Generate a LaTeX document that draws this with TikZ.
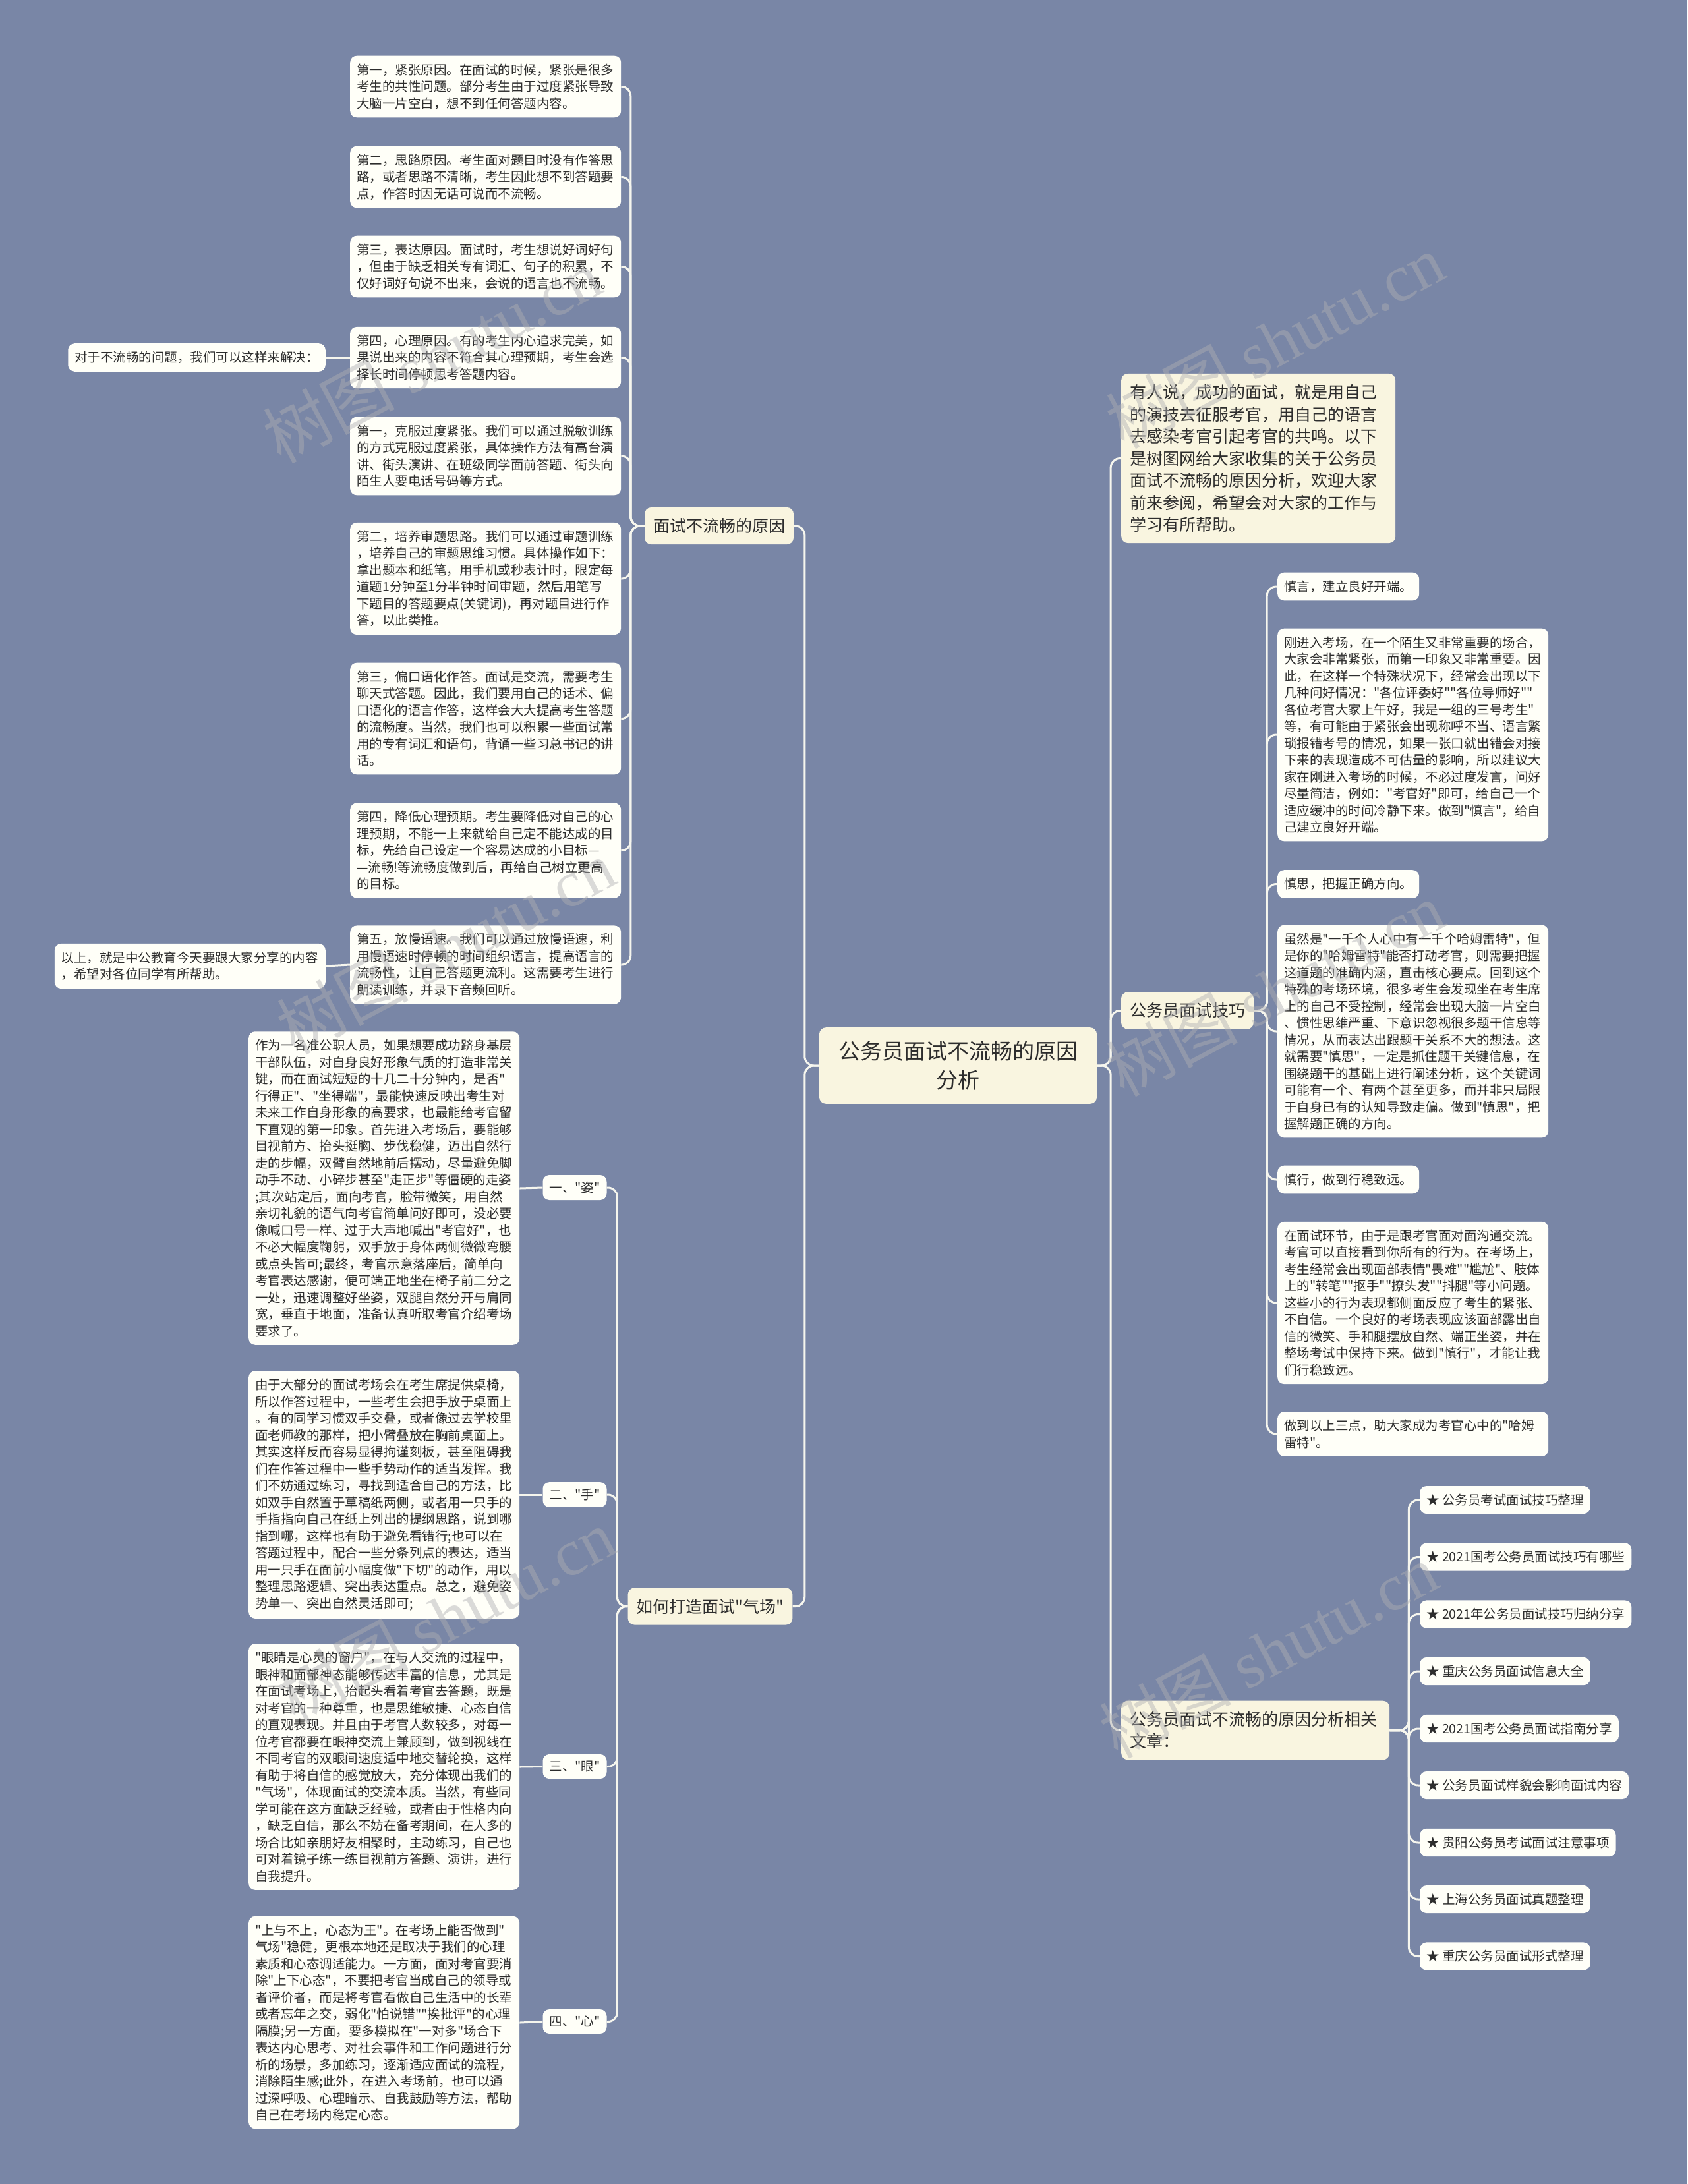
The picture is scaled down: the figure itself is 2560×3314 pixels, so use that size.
\documentclass[tikz,border=0pt]{standalone}
\usepackage{fontspec}
\setmainfont{Noto Sans CJK SC}
\newfontfamily\cn{Noto Sans CJK SC}
\newfontfamily\wmlatin{Liberation Serif}
\definecolor{bgc}{RGB}{121,134,166}
\definecolor{leaffill}{RGB}{255,255,248}
\definecolor{lvlfill}{RGB}{249,245,224}
\definecolor{linec}{RGB}{246,246,238}
\definecolor{textc}{RGB}{45,45,45}
\definecolor{wmc}{RGB}{175,175,178}
\begin{document}
\begin{tikzpicture}[x=1pt,y=-1pt,
  conn/.style={draw=linec, line width=3pt, rounded corners=14pt},
  leaf/.style={fill=leaffill, rounded corners=10pt, text=textc, font=\cn\fontsize{19.5}{25.5}\selectfont, inner xsep=10pt, inner ysep=12pt, align=left},
  wide/.style={leaf, text width=391pt},
  small/.style={leaf, inner ysep=10pt},
  lvl/.style={fill=lvlfill, rounded corners=10pt, text=textc, font=\cn\fontsize{25}{33.5}\selectfont, inner xsep=13pt, inner ysep=16.5pt, align=left},
  rootn/.style={fill=lvlfill, rounded corners=10pt, text=textc, font=\cn\fontsize{33}{44}\selectfont, inner xsep=29pt, inner ysep=20.5pt, align=center, text width=363pt},
  wm/.style={text=wmc, opacity=0.45, rotate=28, font=\cn\fontsize{100}{110}\selectfont}
]
\useasboundingbox (0,0) rectangle (2560,3314);
\fill[bgc] (0,0) rectangle (2560,3314);

% ---------- root ----------
\node[rootn] (root) at (1453.5,1617) {公务员面试不流畅的原因\\分析};

% ---------- left branch 1 ----------
\node[lvl] (why) at (1091,798) {面试不流畅的原因};

\node[wide, anchor=west] (l1) at (531,131.5) {第一，紧张原因。在面试的时候，紧张是很多\\考生的共性问题。部分考生由于过度紧张导致\\大脑一片空白，想不到任何答题内容。};
\node[wide, anchor=west] (l2) at (531,268.5) {第二，思路原因。考生面对题目时没有作答思\\路，或者思路不清晰，考生因此想不到答题要\\点，作答时因无话可说而不流畅。};
\node[wide, anchor=west] (l3) at (531,404.5) {第三，表达原因。面试时，考生想说好词好句\\，但由于缺乏相关专有词汇、句子的积累，不\\仅好词好句说不出来，会说的语言也不流畅。};
\node[wide, anchor=west] (l4) at (531,542.5) {第四，心理原因。有的考生内心追求完美，如\\果说出来的内容不符合其心理预期，考生会选\\择长时间停顿思考答题内容。};
\node[wide, anchor=west] (l5) at (531,692) {第一，克服过度紧张。我们可以通过脱敏训练\\的方式克服过度紧张，具体操作方法有高台演\\讲、街头演讲、在班级同学面前答题、街头向\\陌生人要电话号码等方式。};
\node[wide, anchor=west] (l6) at (531,878) {第二，培养审题思路。我们可以通过审题训练\\，培养自己的审题思维习惯。具体操作如下：\\拿出题本和纸笔，用手机或秒表计时，限定每\\道题1分钟至1分半钟时间审题，然后用笔写\\下题目的答题要点(关键词)，再对题目进行作\\答，以此类推。};
\node[wide, anchor=west] (l7) at (531,1090.5) {第三，偏口语化作答。面试是交流，需要考生\\聊天式答题。因此，我们要用自己的话术、偏\\口语化的语言作答，这样会大大提高考生答题\\的流畅度。当然，我们也可以积累一些面试常\\用的专有词汇和语句，背诵一些习总书记的讲\\话。};
\node[wide, anchor=west] (l8) at (531,1290.5) {第四，降低心理预期。考生要降低对自己的心\\理预期，不能一上来就给自己定不能达成的目\\标，先给自己设定一个容易达成的小目标—\\—流畅!等流畅度做到后，再给自己树立更高\\的目标。};
\node[wide, anchor=west] (l9) at (531,1464) {第五，放慢语速。我们可以通过放慢语速，利\\用慢语速时停顿的时间组织语言，提高语言的\\流畅性，让自己答题更流利。这需要考生进行\\朗读训练，并录下音频回听。};

\node[leaf, anchor=east] (solve) at (494,542.5) {对于不流畅的问题，我们可以这样来解决：};
\node[wide, anchor=east] (summary) at (494,1466) {以上，就是中公教育今天要跟大家分享的内容\\，希望对各位同学有所帮助。};

% ---------- left branch 2 ----------
\node[lvl] (aura) at (1077.5,2437.5) {如何打造面试"气场"};

\node[small] (zi) at (872,1802) {一、"姿"};
\node[small] (shou) at (872,2268) {二、"手"};
\node[small] (yan) at (872,2680.5) {三、"眼"};
\node[small] (xin) at (872,3067.5) {四、"心"};

\node[wide, anchor=west] (zit) at (377,1803) {作为一名准公职人员，如果想要成功跻身基层\\干部队伍，对自身良好形象气质的打造非常关\\键，而在面试短短的十几二十分钟内，是否"\\行得正"、"坐得端"，最能快速反映出考生对\\未来工作自身形象的高要求，也最能给考官留\\下直观的第一印象。首先进入考场后，要能够\\目视前方、抬头挺胸、步伐稳健，迈出自然行\\走的步幅，双臂自然地前后摆动，尽量避免脚\\动手不动、小碎步甚至"走正步"等僵硬的走姿\\;其次站定后，面向考官，脸带微笑，用自然\\亲切礼貌的语气向考官简单问好即可，没必要\\像喊口号一样、过于大声地喊出"考官好"，也\\不必大幅度鞠躬，双手放于身体两侧微微弯腰\\或点头皆可;最终，考官示意落座后，简单向\\考官表达感谢，便可端正地坐在椅子前二分之\\一处，迅速调整好坐姿，双腿自然分开与肩同\\宽，垂直于地面，准备认真听取考官介绍考场\\要求了。};
\node[wide, anchor=west] (shout) at (377,2268) {由于大部分的面试考场会在考生席提供桌椅，\\所以作答过程中，一些考生会把手放于桌面上\\。有的同学习惯双手交叠，或者像过去学校里\\面老师教的那样，把小臂叠放在胸前桌面上。\\其实这样反而容易显得拘谨刻板，甚至阻碍我\\们在作答过程中一些手势动作的适当发挥。我\\们不妨通过练习，寻找到适合自己的方法，比\\如双手自然置于草稿纸两侧，或者用一只手的\\手指指向自己在纸上列出的提纲思路，说到哪\\指到哪，这样也有助于避免看错行;也可以在\\答题过程中，配合一些分条列点的表达，适当\\用一只手在面前小幅度做"下切"的动作，用以\\整理思路逻辑、突出表达重点。总之，避免姿\\势单一、突出自然灵活即可;};
\node[wide, anchor=west] (yant) at (377,2681) {"眼睛是心灵的窗户"，在与人交流的过程中，\\眼神和面部神态能够传达丰富的信息，尤其是\\在面试考场上，抬起头看着考官去答题，既是\\对考官的一种尊重，也是思维敏捷、心态自信\\的直观表现。并且由于考官人数较多，对每一\\位考官都要在眼神交流上兼顾到，做到视线在\\不同考官的双眼间速度适中地交替轮换，这样\\有助于将自信的感觉放大，充分体现出我们的\\"气场"，体现面试的交流本质。当然，有些同\\学可能在这方面缺乏经验，或者由于性格内向\\，缺乏自信，那么不妨在备考期间，在人多的\\场合比如亲朋好友相聚时，主动练习，自己也\\可对着镜子练一练目视前方答题、演讲，进行\\自我提升。};
\node[wide, anchor=west] (xint) at (377,3069) {"上与不上，心态为王"。在考场上能否做到"\\气场"稳健，更根本地还是取决于我们的心理\\素质和心态调适能力。一方面，面对考官要消\\除"上下心态"，不要把考官当成自己的领导或\\者评价者，而是将考官看做自己生活中的长辈\\或者忘年之交，弱化"怕说错""挨批评"的心理\\隔膜;另一方面，要多模拟在"一对多"场合下\\表达内心思考、对社会事件和工作问题进行分\\析的场景，多加练习，逐渐适应面试的流程，\\消除陌生感;此外，在进入考场前，也可以通\\过深呼吸、心理暗示、自我鼓励等方法，帮助\\自己在考场内稳定心态。};

% ---------- right branch ----------
\node[lvl, anchor=west, text width=390pt] (intro) at (1701,695.5) {有人说，成功的面试，就是用自己\\的演技去征服考官，用自己的语言\\去感染考官引起考官的共鸣。以下\\是树图网给大家收集的关于公务员\\面试不流畅的原因分析，欢迎大家\\前来参阅，希望会对大家的工作与\\学习有所帮助。};

\node[lvl] (skill) at (1801.5,1533.5) {公务员面试技巧};

\node[leaf, anchor=west] (r1) at (1938,890) {慎言，建立良好开端。};
\node[wide, anchor=west] (r2) at (1938,1115) {刚进入考场，在一个陌生又非常重要的场合，\\大家会非常紧张，而第一印象又非常重要。因\\此，在这样一个特殊状况下，经常会出现以下\\几种问好情况："各位评委好""各位导师好""\\各位考官大家上午好，我是一组的三号考生"\\等，有可能由于紧张会出现称呼不当、语言繁\\琐报错考号的情况，如果一张口就出错会对接\\下来的表现造成不可估量的影响，所以建议大\\家在刚进入考场的时候，不必过度发言，问好\\尽量简洁，例如："考官好"即可，给自己一个\\适应缓冲的时间冷静下来。做到"慎言"，给自\\己建立良好开端。};
\node[leaf, anchor=west] (r3) at (1938,1341.5) {慎思，把握正确方向。};
\node[wide, anchor=west] (r4) at (1938,1565) {虽然是"一千个人心中有一千个哈姆雷特"，但\\是你的"哈姆雷特"能否打动考官，则需要把握\\这道题的准确内涵，直击核心要点。回到这个\\特殊的考场环境，很多考生会发现坐在考生席\\上的自己不受控制，经常会出现大脑一片空白\\、惯性思维严重、下意识忽视很多题干信息等\\情况，从而表达出跟题干关系不大的想法。这\\就需要"慎思"，一定是抓住题干关键信息，在\\围绕题干的基础上进行阐述分析，这个关键词\\可能有一个、有两个甚至更多，而并非只局限\\于自身已有的认知导致走偏。做到"慎思"，把\\握解题正确的方向。};
\node[leaf, anchor=west] (r5) at (1938,1790) {慎行，做到行稳致远。};
\node[wide, anchor=west] (r6) at (1938,1977) {在面试环节，由于是跟考官面对面沟通交流。\\考官可以直接看到你所有的行为。在考场上，\\考生经常会出现面部表情"畏难""尴尬"、肢体\\上的"转笔""抠手""撩头发""抖腿"等小问题。\\这些小的行为表现都侧面反应了考生的紧张、\\不自信。一个良好的考场表现应该面部露出自\\信的微笑、手和腿摆放自然、端正坐姿，并在\\整场考试中保持下来。做到"慎行"，才能让我\\们行稳致远。};
\node[wide, anchor=west] (r7) at (1938,2176) {做到以上三点，助大家成为考官心中的"哈姆\\雷特"。};

\node[lvl, anchor=west, text width=381pt] (rel) at (1701,2625.5) {公务员面试不流畅的原因分析相关\\文章：};

\node[leaf, anchor=west] (k1) at (2154,2276) {★ 公务员考试面试技巧整理};
\node[leaf, anchor=west] (k2) at (2154,2362.5) {★ 2021国考公务员面试技巧有哪些};
\node[leaf, anchor=west] (k3) at (2154,2449.5) {★ 2021年公务员面试技巧归纳分享};
\node[leaf, anchor=west] (k4) at (2154,2536) {★ 重庆公务员面试信息大全};
\node[leaf, anchor=west] (k5) at (2154,2623) {★ 2021国考公务员面试指南分享};
\node[leaf, anchor=west] (k6) at (2154,2709) {★ 公务员面试样貌会影响面试内容};
\node[leaf, anchor=west] (k7) at (2154,2796) {★ 贵阳公务员考试面试注意事项};
\node[leaf, anchor=west] (k8) at (2154,2882) {★ 上海公务员面试真题整理};
\node[leaf, anchor=west] (k9) at (2154,2968.5) {★ 重庆公务员面试形式整理};

% ---------- connectors ----------
\foreach \c in {why,aura} \draw[conn] (root.west) -- ++(-22,0) |- (\c.east);
\foreach \c in {intro,skill,rel} \draw[conn] (root.east) -- ++(21,0) |- (\c.west);
\foreach \c in {l1,l2,l3,l4,l5,l6,l7,l8,l9} \draw[conn] (why.west) -- ++(-21,0) |- (\c.east);
\draw[conn] (l4.west) -- (solve.east);
\draw[conn] (l9.west) -- (summary.east);
\foreach \c in {zi,shou,yan,xin} \draw[conn] (aura.west) -- ++(-16,0) |- (\c.east);
\draw[conn] (zi.west) -- (zit.east);
\draw[conn] (shou.west) -- (shout.east);
\draw[conn] (yan.west) -- (yant.east);
\draw[conn] (xin.west) -- (xint.east);
\foreach \c in {r1,r2,r3,r4,r5,r6,r7} \draw[conn] (skill.east) -- ++(20,0) |- (\c.west);
\foreach \c in {k1,k2,k3,k4,k5,k6,k7,k8,k9} \draw[conn] (rel.east) -- ++(29,0) |- (\c.west);

% ---------- watermarks ----------
\node[wm] (w1) at (655,540) {树图 {\wmlatin shutu.cn}};
\node[wm] (w2) at (1934,518) {树图 {\wmlatin shutu.cn}};
\node[wm] (w3) at (676,1437) {树图 {\wmlatin shutu.cn}};
\node[wm] (w4) at (1934,1501) {树图 {\wmlatin shutu.cn}};
\node[wm] (w5) at (676,2452) {树图 {\wmlatin shutu.cn}};
\node[wm] (w6) at (1924,2505) {树图 {\wmlatin shutu.cn}};
\end{tikzpicture}
\end{document}
